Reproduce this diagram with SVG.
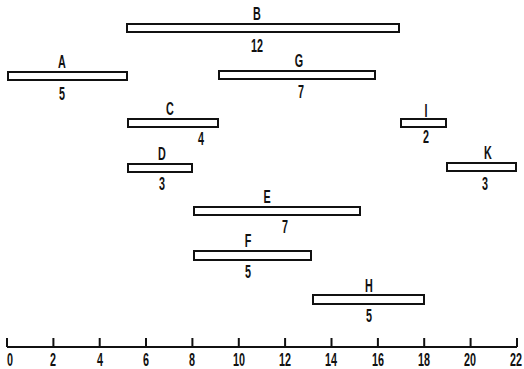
<svg xmlns="http://www.w3.org/2000/svg" width="524" height="369" viewBox="0 0 524 369">
  <style>
    .bar { fill: #fff; stroke: #111; stroke-width: 2; }
    .lbl { font-family: "Liberation Sans", Arial, sans-serif; font-weight: bold; font-size: 18px; fill: #111; text-anchor: middle; }
    .axis { stroke: #111; stroke-width: 2; fill: none; }
  </style>
  <rect width="524" height="369" fill="#fff"/>

  <!-- activities: bar, name above, duration below -->
  <g id="A">
    <rect class="bar" x="8" y="72" width="119" height="8"/>
    <text class="lbl" transform="translate(62 68) scale(0.6 1)">A</text>
    <text class="lbl" transform="translate(62 100) scale(0.6 1)">5</text>
  </g>
  <g id="B">
    <rect class="bar" x="127" y="24" width="272" height="8"/>
    <text class="lbl" transform="translate(257 20) scale(0.6 1)">B</text>
    <text class="lbl" transform="translate(257 52) scale(0.6 1)">12</text>
  </g>
  <g id="G">
    <rect class="bar" x="219" y="71" width="156" height="8"/>
    <text class="lbl" transform="translate(299 67) scale(0.6 1)">G</text>
    <text class="lbl" transform="translate(301 98) scale(0.6 1)">7</text>
  </g>
  <g id="C">
    <rect class="bar" x="128" y="119" width="90" height="8"/>
    <text class="lbl" transform="translate(170 115) scale(0.6 1)">C</text>
    <text class="lbl" transform="translate(201 145) scale(0.6 1)">4</text>
  </g>
  <g id="I">
    <rect class="bar" x="401" y="119" width="45" height="8"/>
    <text class="lbl" transform="translate(426 117) scale(0.6 1)">I</text>
    <text class="lbl" transform="translate(426 143) scale(0.6 1)">2</text>
  </g>
  <g id="D">
    <rect class="bar" x="128" y="164" width="64" height="8"/>
    <text class="lbl" transform="translate(162 160) scale(0.6 1)">D</text>
    <text class="lbl" transform="translate(162 190) scale(0.6 1)">3</text>
  </g>
  <g id="K">
    <rect class="bar" x="447" y="163" width="69" height="8"/>
    <text class="lbl" transform="translate(488 159) scale(0.6 1)">K</text>
    <text class="lbl" transform="translate(485 190) scale(0.6 1)">3</text>
  </g>
  <g id="E">
    <rect class="bar" x="194" y="207" width="166" height="8"/>
    <text class="lbl" transform="translate(267 203) scale(0.6 1)">E</text>
    <text class="lbl" transform="translate(285 233) scale(0.6 1)">7</text>
  </g>
  <g id="F">
    <rect class="bar" x="194" y="251" width="117" height="9"/>
    <text class="lbl" transform="translate(248 247) scale(0.6 1)">F</text>
    <text class="lbl" transform="translate(248 278) scale(0.6 1)">5</text>
  </g>
  <g id="H">
    <rect class="bar" x="313" y="295" width="111" height="9"/>
    <text class="lbl" transform="translate(369 292) scale(0.6 1)">H</text>
    <text class="lbl" transform="translate(369 322) scale(0.6 1)">5</text>
  </g>

  <!-- time axis, ticks every 2 units -->
  <g id="time-axis">
    <line class="axis" x1="7" y1="347" x2="517" y2="347"/>
    <path class="axis" d="M7 338V347 M53.4 338V347 M99.7 338V347 M146 338V347 M192.4 338V347 M238.8 338V347 M285.1 338V347 M331.5 338V347 M377.9 338V347 M424.2 338V347 M470.6 338V347 M517 338V347"/>
    <text class="lbl" transform="translate(10 366) scale(0.6 1)">0</text>
    <text class="lbl" transform="translate(53 366) scale(0.6 1)">2</text>
    <text class="lbl" transform="translate(100 366) scale(0.6 1)">4</text>
    <text class="lbl" transform="translate(146 366) scale(0.6 1)">6</text>
    <text class="lbl" transform="translate(192 366) scale(0.6 1)">8</text>
    <text class="lbl" transform="translate(239 366) scale(0.6 1)">10</text>
    <text class="lbl" transform="translate(285 366) scale(0.6 1)">12</text>
    <text class="lbl" transform="translate(331 366) scale(0.6 1)">14</text>
    <text class="lbl" transform="translate(378 366) scale(0.6 1)">16</text>
    <text class="lbl" transform="translate(424 366) scale(0.6 1)">18</text>
    <text class="lbl" transform="translate(470 366) scale(0.6 1)">20</text>
    <text class="lbl" transform="translate(516 366) scale(0.6 1)">22</text>
  </g>
</svg>
